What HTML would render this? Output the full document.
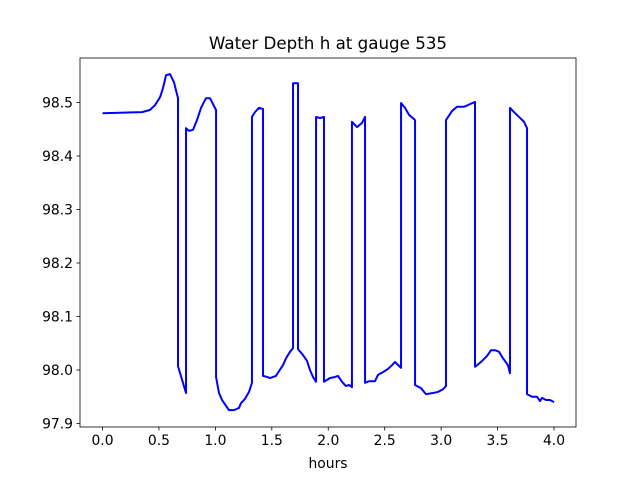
<!DOCTYPE html>
<html><head><meta charset="utf-8"><style>
html,body{margin:0;padding:0;background:#fff;}
svg text{font-family:"DejaVu Sans","Liberation Sans",sans-serif;fill:#000;}
</style></head><body>
<svg id="chart" width="640" height="480" viewBox="0 0 640 480" xmlns="http://www.w3.org/2000/svg">
<rect x="0" y="0" width="640" height="480" fill="#fff"/>
<text x="328" y="49" font-size="16.7" text-anchor="middle">Water Depth h at gauge 535</text>
<g id="plot"></g>
<text x="328" y="468" font-size="13.9" text-anchor="middle">hours</text>
</svg>
<script>
const hours = [0.00,0.35,0.42,0.465,0.51,0.536,0.563,0.598,0.633,0.669,0.669,0.740,0.740,0.766,0.802,0.837,0.873,0.917,0.952,1.006,1.006,1.032,1.059,1.094,1.121,1.165,1.209,1.227,1.262,1.298,1.324,1.324,1.351,1.386,1.422,1.422,1.457,1.484,1.511,1.537,1.564,1.599,1.626,1.661,1.688,1.688,1.732,1.732,1.776,1.812,1.838,1.865,1.892,1.892,1.927,1.962,1.962,2.016,2.060,2.086,2.122,2.157,2.184,2.210,2.210,2.255,2.299,2.326,2.326,2.361,2.414,2.441,2.485,2.529,2.565,2.591,2.645,2.645,2.680,2.715,2.760,2.769,2.769,2.822,2.857,2.866,2.928,2.972,3.017,3.043,3.043,3.096,3.141,3.203,3.256,3.300,3.300,3.353,3.406,3.442,3.477,3.513,3.548,3.592,3.610,3.610,3.646,3.690,3.734,3.761,3.761,3.805,3.849,3.876,3.894,3.929,3.965,4.000];
const depth = [98.480,98.482,98.486,98.495,98.510,98.527,98.551,98.553,98.538,98.508,98.007,97.957,98.452,98.447,98.449,98.467,98.490,98.508,98.508,98.486,97.987,97.957,97.944,97.933,97.925,97.925,97.929,97.938,97.946,97.959,97.976,98.473,98.482,98.490,98.488,97.989,97.987,97.985,97.987,97.989,97.998,98.009,98.022,98.034,98.041,98.536,98.536,98.039,98.028,98.017,98.000,97.987,97.978,98.473,98.471,98.473,97.978,97.985,97.987,97.989,97.978,97.970,97.972,97.968,98.464,98.454,98.462,98.473,97.976,97.979,97.979,97.991,97.996,98.002,98.009,98.015,98.004,98.499,98.490,98.477,98.469,98.467,97.972,97.966,97.957,97.955,97.957,97.959,97.964,97.970,98.467,98.484,98.492,98.492,98.497,98.501,98.006,98.015,98.026,98.037,98.037,98.034,98.022,98.009,97.994,98.490,98.482,98.473,98.464,98.452,97.955,97.950,97.950,97.942,97.948,97.944,97.944,97.940];
const xTicks = [0.0,0.5,1.0,1.5,2.0,2.5,3.0,3.5,4.0];
const xTickLabels = ["0.0","0.5","1.0","1.5","2.0","2.5","3.0","3.5","4.0"];
const yTicks = [97.9,98.0,98.1,98.2,98.3,98.4,98.5];
const yTickLabels = ["97.9","98.0","98.1","98.2","98.3","98.4","98.5"];

const L=80,R=576,T=58,B=427;
function xs(h){return 102.5+h*112.875;}
function ys(v){return 370-(v-98.0)*535;}
const NS="http://www.w3.org/2000/svg";
const g=document.getElementById('plot');
function mk(tag,attrs){const e=document.createElementNS(NS,tag);for(const k in attrs)e.setAttribute(k,attrs[k]);g.appendChild(e);return e;}

const line=mk('polyline',{fill:'none',stroke:'#0000ff','stroke-width':'2','stroke-linejoin':'round',points:hours.map((h,i)=>xs(h).toFixed(2)+','+ys(depth[i]).toFixed(2)).join(' ')});



const frame=mk('rect',{x:L,y:T,width:R-L,height:B-T,fill:'none',stroke:'#000','stroke-width':'0.8'});



xTicks.forEach((t,i)=>{
  const x=xs(t);
  const tk=mk('line',{x1:x,y1:B,x2:x,y2:B+3.5,stroke:'#000','stroke-width':'0.8'});
  
  
  const tx=mk('text',{x:x,y:B+18,'font-size':'13.9','text-anchor':'middle'});
  tx.textContent=xTickLabels[i];
  
  
});
yTicks.forEach((t,i)=>{
  const y=ys(t);
  const tk=mk('line',{x1:L-3.5,y1:y,x2:L,y2:y,stroke:'#000','stroke-width':'0.8'});
  
  
  const tx=mk('text',{x:L-7,y:y+5,'font-size':'13.9','text-anchor':'end'});
  tx.textContent=yTickLabels[i];
  
  
});
</script>
</body></html>
